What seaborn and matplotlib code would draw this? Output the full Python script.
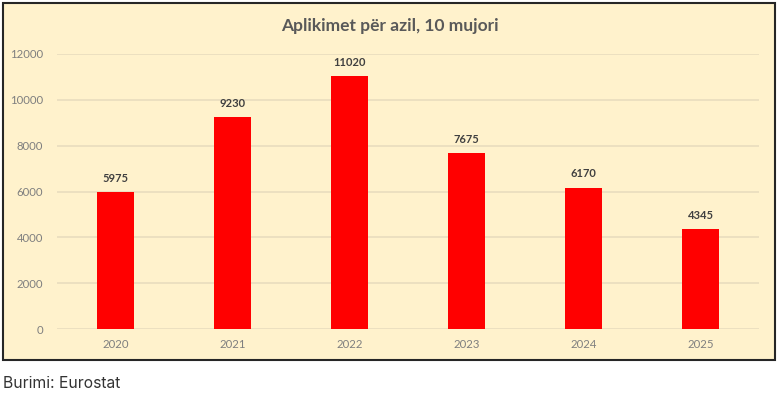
import matplotlib
matplotlib.use("Agg")
import matplotlib.pyplot as plt
from matplotlib.patches import Rectangle
import seaborn as sns
import pandas as pd

years = ["2020", "2021", "2022", "2023", "2024", "2025"]
applications = [5975, 9230, 11020, 7675, 6170, 4345]
title = "Aplikimet për azil, 10 mujori"
source = "Burimi: Eurostat"

df = pd.DataFrame({"year": years, "apps": applications})

sns.set_theme(style="white")
plt.rcParams['font.family'] = ['Lato', 'DejaVu Sans']

W, H = 781, 405
fig = plt.figure(figsize=(W / 100, H / 100), dpi=100)
fig.patch.set_facecolor("white")

# cream chart box with dark border, kept behind the axes
box = Rectangle((3 / W, 1 - 360 / H), 772 / W, 357 / H, transform=fig.transFigure,
                facecolor="#FFF2CC", edgecolor="#262626", linewidth=1.5, zorder=-5)
fig.patches.append(box)

ax = fig.add_axes([57 / W, 1 - 329 / H, 702 / W, 275 / H])
ax.set_facecolor("none")
ax.set_zorder(2)

sns.barplot(data=df, x="year", y="apps", color="#FF0000", width=0.31,
            saturation=1, linewidth=0, ax=ax, zorder=3)

ax.set_ylim(0, 12000)
ax.set_yticks(range(0, 12001, 2000))
ax.yaxis.grid(True, color="#E9DDBE", linewidth=1.2, zorder=0)
ax.set_axisbelow(True)
for s in ax.spines.values():
    s.set_visible(False)
ax.tick_params(axis="both", length=0, labelsize=8.2, labelcolor="#7F7F7F")
ax.tick_params(axis="x", pad=7)
ax.tick_params(axis="y", pad=10)
ax.set_xlabel("")
ax.set_ylabel("")

for i, v in enumerate(applications):
    ax.annotate(str(v), (i, v), xytext=(0, 6), textcoords="offset points",
                ha="center", va="bottom", fontsize=8, fontweight="bold", color="#404040")

fig.text(390 / W, 1 - 26 / H, title, ha="center", va="center",
         fontsize=12.5, fontweight="bold", color="#595959")
fig.text(3 / W, 1 - 383 / H, source, ha="left", va="center",
         fontsize=11.3, color="#333333", family=["Inter", "DejaVu Sans"])

fig.savefig("out.png", dpi=100)
